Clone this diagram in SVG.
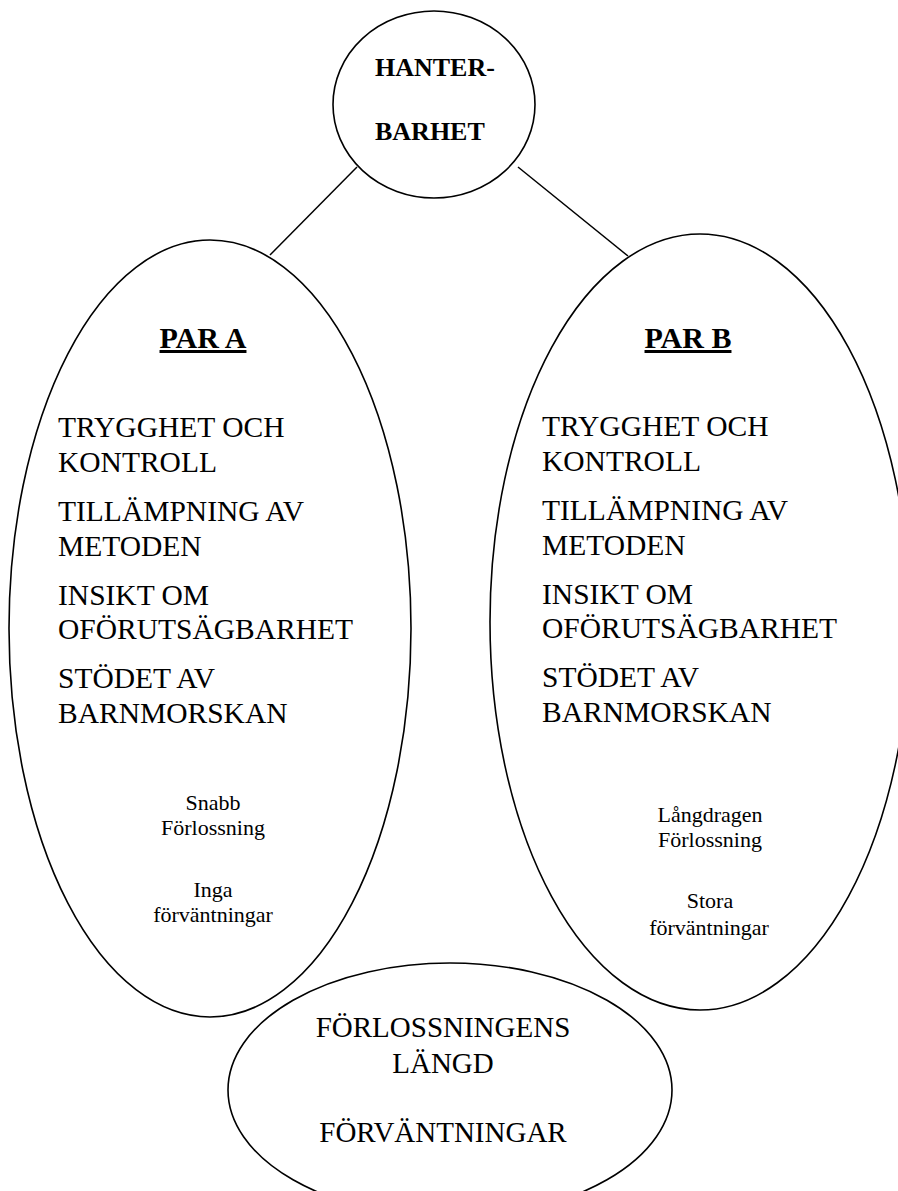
<svg xmlns="http://www.w3.org/2000/svg" width="898" height="1191" viewBox="0 0 898 1191">
<style>
.shape{fill:none;stroke:#000;stroke-width:1.6}
.conn{stroke:#000;stroke-width:1.5;fill:none}
text{font-family:"Liberation Serif","Times New Roman",serif;fill:#000}
.big{font-size:29.5px}
.head{font-size:30px;font-weight:bold;text-decoration:underline}
.top{font-size:26px;font-weight:bold}
.small{font-size:22px;text-anchor:middle}
.bot{font-size:29px;text-anchor:middle}
</style>
<rect width="898" height="1191" fill="#fff"/>
<g id="connectors">
<line class="conn" x1="357" y1="167" x2="270" y2="255"/>
<line class="conn" x1="518" y1="167" x2="628" y2="256"/>
</g>
<g id="hanterbarhet">
<ellipse class="shape" cx="434" cy="104.5" rx="101" ry="93.5"/>
<text class="top" x="375" y="76">HANTER-</text>
<text class="top" x="375" y="140">BARHET</text>
</g>
<g id="par-a">
<ellipse class="shape" cx="210" cy="628.5" rx="201" ry="388.5"/>
<text class="head" x="203" y="348" text-anchor="middle">PAR A</text>
<text class="big" x="58" y="437">TRYGGHET OCH</text>
<text class="big" x="58" y="471.5">KONTROLL</text>
<text class="big" x="58" y="521">TILLÄMPNING AV</text>
<text class="big" x="58" y="555.5">METODEN</text>
<text class="big" x="58" y="604.5">INSIKT OM</text>
<text class="big" x="58" y="639">OFÖRUTSÄGBARHET</text>
<text class="big" x="58" y="688">STÖDET AV</text>
<text class="big" x="58" y="722.5">BARNMORSKAN</text>
<text class="small" x="213" y="810">Snabb</text>
<text class="small" x="213" y="835">Förlossning</text>
<text class="small" x="213" y="897">Inga</text>
<text class="small" x="213" y="922">förväntningar</text>
</g>
<g id="par-b">
<ellipse class="shape" cx="700" cy="622" rx="210" ry="388"/>
<text class="head" x="688" y="348" text-anchor="middle">PAR B</text>
<text class="big" x="542" y="436">TRYGGHET OCH</text>
<text class="big" x="542" y="470.5">KONTROLL</text>
<text class="big" x="542" y="520">TILLÄMPNING AV</text>
<text class="big" x="542" y="554.5">METODEN</text>
<text class="big" x="542" y="603.5">INSIKT OM</text>
<text class="big" x="542" y="638">OFÖRUTSÄGBARHET</text>
<text class="big" x="542" y="687">STÖDET AV</text>
<text class="big" x="542" y="721.5">BARNMORSKAN</text>
<text class="small" x="710" y="822">Långdragen</text>
<text class="small" x="710" y="847">Förlossning</text>
<text class="small" x="710" y="908">Stora</text>
<text class="small" x="709" y="935">förväntningar</text>
</g>
<g id="forlossning">
<ellipse class="shape" cx="450" cy="1090" rx="222" ry="127"/>
<text class="bot" x="443" y="1037">FÖRLOSSNINGENS</text>
<text class="bot" x="443" y="1073">LÄNGD</text>
<text class="bot" x="443" y="1142">FÖRVÄNTNINGAR</text>
</g>
</svg>
